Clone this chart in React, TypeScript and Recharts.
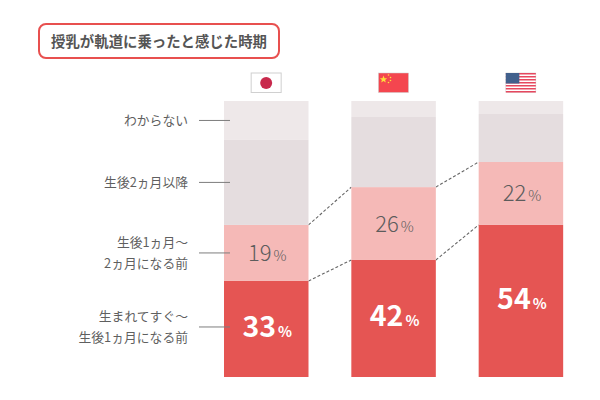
import { BarChart, Bar, XAxis, YAxis, LabelList } from "recharts";

const countries = ["日本", "中国", "アメリカ"];
// bar heights as drawn in the picture (share of the full column)
const early = [34.8, 42.4, 55.1];
const middle = [20.3, 26.4, 22.8];
const later = [30.8, 25.4, 17.4];
const unknown = [14.1, 5.8, 4.7];
// numbers printed on the bars
const earlyLabels = [33, 42, 54];
const middleLabels = [19, 26, 22];

const rowLabels = [
  ["生まれてすぐ〜", "生後1ヵ月になる前"],
  ["生後1ヵ月〜", "2ヵ月になる前"],
  ["生後2ヵ月以降"],
  ["わからない"],
];
const seriesKeys = ["early", "middle", "later", "unknown"];
const seriesColors = ["#e55553", "#f5b9b7", "#e5dddf", "#eee8e9"];

const chartData = countries.map((name, i) => ({
  name,
  early: early[i],
  middle: middle[i],
  later: later[i],
  unknown: unknown[i],
  earlyLabel: earlyLabels[i],
  middleLabel: middleLabels[i],
}));

const FONT = '"Noto Sans CJK JP", "Noto Sans", sans-serif';
const margin = { top: 70, right: 15, bottom: 23, left: 203 };
const plotWidth = 600 - margin.left - margin.right;
const step = plotWidth / countries.length;

function makeSegment(level: number) {
  return function Segment(props: any) {
    const { x, y, width, height, index, fill } = props;
    const k = height / chartData[index][seriesKeys[level]];
    const cum = (col: number) =>
      seriesKeys.slice(0, level + 1).reduce((s, key) => s + chartData[col][key], 0);
    const hasLink = level < 2 && index < countries.length - 1;
    const bottom = y + k * cum(index);
    const nextTop = hasLink ? bottom - k * cum(index + 1) : 0;
    const mid = y + height / 2 - (level === 0 ? 2 : 0);
    const lines = rowLabels[level];
    return (
      <g>
        <rect x={x} y={y} width={width} height={height} fill={fill} />
        {hasLink && (
          <line
            x1={x + width}
            y1={y}
            x2={x + step}
            y2={nextTop}
            stroke="#666"
            strokeWidth={1.1}
            strokeDasharray="3 2"
          />
        )}
        {index === 0 && (
          <g>
            <line x1={x - 25} y1={mid} x2={x + 6} y2={mid} stroke="#7d7d7d" strokeWidth={1} />
            {lines.map((t, i) => (
              <text
                key={t}
                x={x - 36}
                y={mid + 4.5 + (i - (lines.length - 1) / 2) * 20.5}
                textAnchor="end"
                fontFamily={FONT}
                fontSize={12.8}
                fontWeight={400}
                fill="#5f5f5f"
              >
                {t}
              </text>
            ))}
          </g>
        )}
      </g>
    );
  };
}

function PercentLabel(props: any) {
  const { x, y, width, height, value, strong } = props;
  return (
    <text
      x={x + width / 2 + 1}
      y={y + height / 2 + 8}
      textAnchor="middle"
      fontFamily={FONT}
      fill={strong ? "#fff" : "#5c5c5c"}
      fontWeight={strong ? 700 : 300}
    >
      <tspan fontSize={strong ? 28.5 : 22}>{value}</tspan>
      <tspan fontSize={14.5} dx={2}>
        %
      </tspan>
    </text>
  );
}

function Flag({ x, y, payload }: any) {
  const left = x - 15.5;
  const top = y - 20;
  if (payload.value === "日本") {
    return (
      <g>
        <rect x={left} y={top} width={30} height={19.5} fill="#fff" stroke="#d0d0d0" strokeWidth={1} />
        <circle cx={left + 15} cy={top + 10} r={6} fill="#c8294c" />
      </g>
    );
  }
  if (payload.value === "中国") {
    return (
      <g>
        <rect x={left} y={top} width={30} height={19.5} fill="#f4464f" stroke="#ccc" strokeWidth={0.5} />
        <polygon
          points={`${left + 5},${top + 2.5} ${left + 6},${top + 5.2} ${left + 8.6},${top + 5.2} ${left + 6.6},${top + 6.9} ${left + 7.3},${top + 9.6} ${left + 5},${top + 8} ${left + 2.7},${top + 9.6} ${left + 3.4},${top + 6.9} ${left + 1.4},${top + 5.2} ${left + 4},${top + 5.2}`}
          fill="#fde03a"
        />
        {[[10, 2], [12, 4.5], [12, 7.5], [10, 9.5]].map(([dx, dy]) => (
          <circle key={dx * dy} cx={left + dx} cy={top + dy} r={0.8} fill="#fde03a" />
        ))}
      </g>
    );
  }
  const stripes = Array.from({ length: 7 }, (_, i) => i);
  return (
    <g>
      <rect x={left} y={top} width={30} height={19.5} fill="#fff" stroke="#ccc" strokeWidth={0.5} />
      {stripes.map((i) => (
        <rect key={i} x={left} y={top + i * 3} width={30} height={1.5} fill="#e6485f" />
      ))}
      <rect x={left} y={top} width={13.5} height={10.5} fill="#41608c" />
    </g>
  );
}

export default function App() {
  return (
    <div style={{ position: "absolute", left: 0, top: 0, width: 600, height: 400, background: "#fff" }}>
      <div
        style={{
          position: "absolute",
          left: 38,
          top: 23,
          width: 242,
          height: 36,
          boxSizing: "border-box",
          border: "2px solid #e8504f",
          borderRadius: 8,
          fontFamily: FONT,
          fontSize: 14.4,
          fontWeight: 700,
          color: "#555",
          lineHeight: "31px",
          textAlign: "center",
          whiteSpace: "nowrap",
        }}
      >
        授乳が軌道に乗ったと感じた時期
      </div>
      <BarChart width={600} height={400} data={chartData} margin={margin} barSize={84.5}>
        <XAxis
          dataKey="name"
          orientation="top"
          height={31}
          axisLine={false}
          tickLine={false}
          interval={0}
          tick={<Flag />}
        />
        <YAxis hide domain={[0, 100]} />
        <Bar
          dataKey="early"
          stackId="a"
          fill={seriesColors[0]}
          isAnimationActive={false}
          shape={makeSegment(0)}
        >
          <LabelList dataKey="earlyLabel" content={(p: any) => <PercentLabel {...p} strong />} />
        </Bar>
        <Bar
          dataKey="middle"
          stackId="a"
          fill={seriesColors[1]}
          isAnimationActive={false}
          shape={makeSegment(1)}
        >
          <LabelList dataKey="middleLabel" content={(p: any) => <PercentLabel {...p} />} />
        </Bar>
        <Bar
          dataKey="later"
          stackId="a"
          fill={seriesColors[2]}
          isAnimationActive={false}
          shape={makeSegment(2)}
        />
        <Bar
          dataKey="unknown"
          stackId="a"
          fill={seriesColors[3]}
          isAnimationActive={false}
          shape={makeSegment(3)}
        />
      </BarChart>
    </div>
  );
}
